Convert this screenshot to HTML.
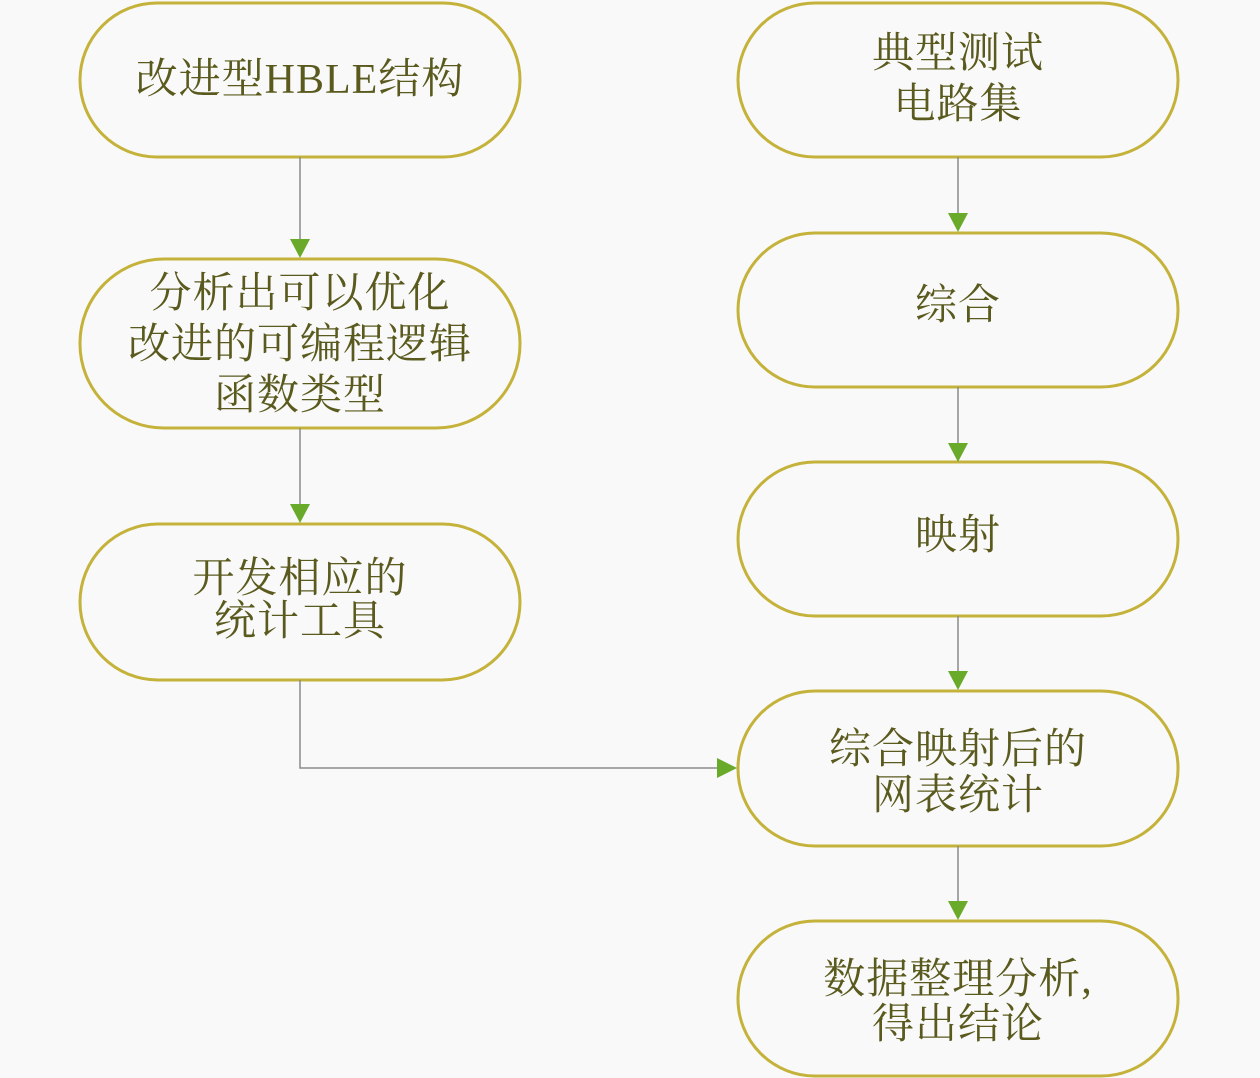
<!DOCTYPE html>
<html><head><meta charset="utf-8"><style>
html,body{margin:0;padding:0;background:#f9f9f9}
svg{display:block}
text{font-family:"Liberation Serif","Noto Serif CJK SC",serif;font-size:42px;letter-spacing:1px;fill:#5a5a1e;text-anchor:middle}
.n{fill:#f9f9f9;stroke:#c4b23a;stroke-width:3}
.l{stroke:#8a8a8a;stroke-width:1.5;fill:none}
.a{fill:#6aaa2a}
</style></head><body>
<svg width="1260" height="1078" viewBox="0 0 1260 1078">
<rect class="n" x="80" y="3" width="440" height="154" rx="77"/>
<rect class="n" x="80" y="259" width="440" height="169" rx="84"/>
<rect class="n" x="80" y="524" width="440" height="156" rx="78"/>
<rect class="n" x="738" y="3" width="440" height="154" rx="77"/>
<rect class="n" x="738" y="233" width="440" height="154" rx="77"/>
<rect class="n" x="738" y="462" width="440" height="154" rx="77"/>
<rect class="n" x="738" y="691" width="440" height="155" rx="77"/>
<rect class="n" x="738" y="921" width="440" height="155" rx="77"/>

<path class="l" d="M300 157V240M300 428V505M300 680V768H718M958 157V214M958 387V444M958 616V672M958 846V902"/>
<polygon class="a" points="290,239 310,239 300,258"/>
<polygon class="a" points="290,504 310,504 300,523"/>
<polygon class="a" points="717,758 717,778 737,768"/>
<polygon class="a" points="948,213 968,213 958,232"/>
<polygon class="a" points="948,443 968,443 958,462"/>
<polygon class="a" points="948,671 968,671 958,690"/>
<polygon class="a" points="948,901 968,901 958,920"/>

<text x="300" y="93">改进型HBLE结构</text>
<text x="300" y="307">分析出可以优化</text>
<text x="300" y="358">改进的可编程逻辑</text>
<text x="300" y="409">函数类型</text>
<text x="300" y="592">开发相应的</text>
<text x="300" y="635">统计工具</text>
<text x="958" y="67">典型测试</text>
<text x="958" y="118">电路集</text>
<text x="958" y="319">综合</text>
<text x="958" y="549">映射</text>
<text x="958" y="763">综合映射后的</text>
<text x="958" y="809">网表统计</text>
<text x="958" y="993">数据整理分析,</text>
<text x="958" y="1038">得出结论</text>
</svg>
</body></html>
